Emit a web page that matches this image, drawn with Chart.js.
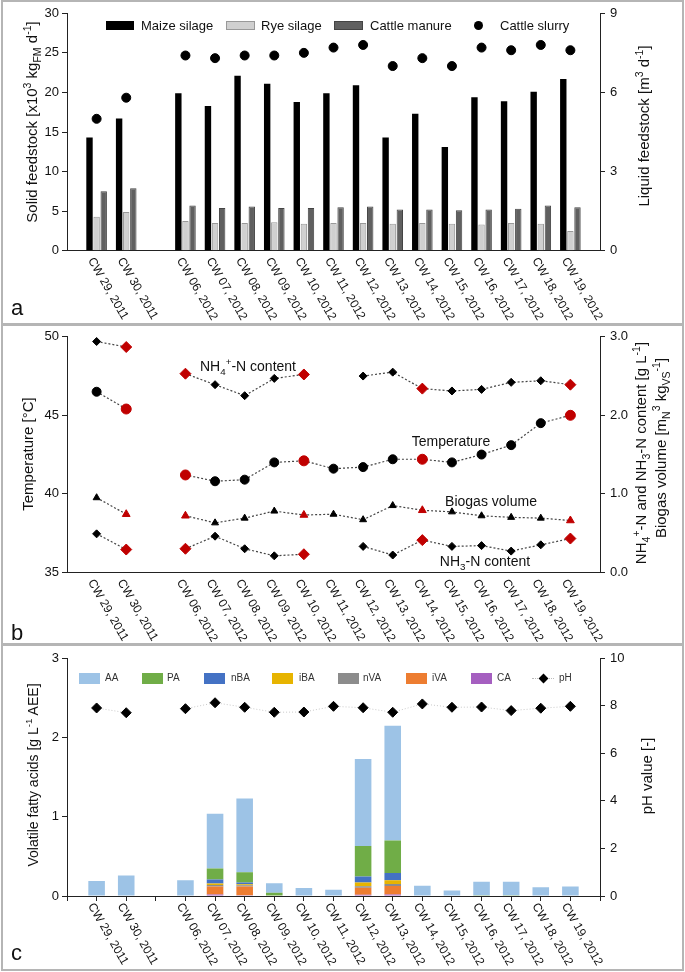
<!DOCTYPE html>
<html>
<head>
<meta charset="utf-8">
<script src="https://cdn.jsdelivr.net/npm/chart.js@4.4.1/dist/chart.umd.min.js"></script>
<style>
  body { margin: 0; width: 685px; height: 972px; position: relative; overflow: hidden; background: #fff;
         font-family: 'Liberation Sans', Arial, sans-serif; color: #111; }
  .panel { position: absolute; left: 1px; width: 683px; box-sizing: border-box; border: 2px solid #b5b5b5; }
  canvas { position: absolute; left: 0; }
  .t { position: absolute; white-space: nowrap; font-size: 15px; line-height: 1; }
  .rot { transform: translate(-50%, -50%) rotate(-90deg); }
  .mid { transform: translate(-50%, -50%); }
  .lt { transform: translateY(-50%); }
  sup, sub { font-size: 0.7em; line-height: 0; }
  .sw { position: absolute; box-sizing: border-box; }
  .small { font-size: 10px; color: #333; }
  .letter { position: absolute; left: 11px; font-size: 22px; line-height: 1; }
</style>
</head>
<body>
<div class="panel" style="top:0; height:325px"></div>
<div class="panel" style="top:324px; height:321px"></div>
<div class="panel" style="top:644px; height:327px"></div>

<canvas id="feedstock" width="685" height="324" style="top:0"></canvas>
<canvas id="process" width="685" height="320" style="top:324px"></canvas>
<canvas id="acids" width="685" height="326" style="top:644px"></canvas>

<!-- panel a: titles and legend -->
<div class="t rot" style="left:31px; top:122px">Solid feedstock [x10<sup>3</sup> kg<sub>FM</sub> d<sup>-1</sup>]</div>
<div class="t rot" style="left:643px; top:126px">Liquid feedstock [m<sup>3</sup> d<sup>-1</sup>]</div>
<span class="sw" style="left:106px; top:20.5px; width:28px; height:9px; background:#000"></span>
<span class="t lt" style="left:141px; top:25px; font-size:13px">Maize silage</span>
<span class="sw" style="left:226px; top:20.5px; width:29px; height:9px; background:#d0d0d0; border:1px solid #999"></span>
<span class="t lt" style="left:261px; top:25px; font-size:13px">Rye silage</span>
<span class="sw" style="left:334px; top:20.5px; width:29px; height:9px; background:#606060; border:1px solid #444"></span>
<span class="t lt" style="left:370px; top:25px; font-size:13px">Cattle manure</span>
<span class="sw" style="left:473.5px; top:20.5px; width:9px; height:9px; background:#000; border-radius:50%"></span>
<span class="t lt" style="left:500px; top:25px; font-size:13px">Cattle slurry</span>
<div class="letter" style="top:297px">a</div>

<!-- panel b: titles and series labels -->
<div class="t rot" style="left:27px; top:454px">Temperature [°C]</div>
<div class="t rot" style="left:640px; top:453px">NH<sub>4</sub><sup>+</sup>-N and NH<sub>3</sub>-N content [g L<sup>-1</sup>]</div>
<div class="t rot" style="left:660px; top:448px">Biogas volume [m<sub>N</sub><sup>3</sup> kg<sub>VS</sub><sup>-1</sup>]</div>
<div class="t mid" style="left:248px; top:366px; font-size:14px">NH<sub>4</sub><sup>+</sup>-N content</div>
<div class="t mid" style="left:451px; top:441px; font-size:14px">Temperature</div>
<div class="t mid" style="left:491px; top:501px; font-size:14px">Biogas volume</div>
<div class="t mid" style="left:485px; top:561px; font-size:14px">NH<sub>3</sub>-N content</div>
<div class="letter" style="top:622px">b</div>

<!-- panel c: titles and legend -->
<div class="t rot" style="left:33px; top:775px; font-size:14px">Volatile fatty acids [g L<sup>-1</sup> AEE]</div>
<div class="t rot" style="left:646px; top:776px">pH value [-]</div>
<span class="sw" style="left:79px; top:673px; width:21px; height:11px; background:#9dc3e6"></span>
<span class="t lt small" style="left:105px; top:678px">AA</span>
<span class="sw" style="left:142px; top:673px; width:21px; height:11px; background:#70ad47"></span>
<span class="t lt small" style="left:167px; top:678px">PA</span>
<span class="sw" style="left:204px; top:673px; width:21px; height:11px; background:#4472c4"></span>
<span class="t lt small" style="left:231px; top:678px">nBA</span>
<span class="sw" style="left:272px; top:673px; width:21px; height:11px; background:#e7b400"></span>
<span class="t lt small" style="left:299px; top:678px">iBA</span>
<span class="sw" style="left:338px; top:673px; width:21px; height:11px; background:#8c8c8c"></span>
<span class="t lt small" style="left:363px; top:678px">nVA</span>
<span class="sw" style="left:406px; top:673px; width:21px; height:11px; background:#ed7d31"></span>
<span class="t lt small" style="left:432px; top:678px">iVA</span>
<span class="sw" style="left:471px; top:673px; width:21px; height:11px; background:#a55fc0"></span>
<span class="t lt small" style="left:497px; top:678px">CA</span>
<span class="sw" style="left:532px; top:677.5px; width:22px; height:0; border-top:1px dotted #bbb"></span>
<span class="sw" style="left:539.5px; top:674.5px; width:7px; height:7px; background:#000; transform:rotate(45deg)"></span>
<span class="t lt small" style="left:559px; top:678px">pH</span>
<div class="letter" style="top:942px">c</div>

<script>
// sampling weeks; the blank entry is the gap between the 2011 and 2012 campaigns
const weeks = ['CW 29, 2011', 'CW 30, 2011', '', 'CW 06, 2012', 'CW 07, 2012', 'CW 08, 2012',
    'CW 09, 2012', 'CW 10, 2012', 'CW 11, 2012', 'CW 12, 2012', 'CW 13, 2012', 'CW 14, 2012',
    'CW 15, 2012', 'CW 16, 2012', 'CW 17, 2012', 'CW 18, 2012', 'CW 19, 2012'];
// weeks drawn in red in panel b
const redWeeks = ['CW 30, 2011', 'CW 06, 2012', 'CW 10, 2012', 'CW 14, 2012', 'CW 19, 2012'];

// a) feedstock
const maizeSilage = [14.3, 16.7, null, 19.9, 18.3, 22.1, 21.1, 18.8, 19.9, 20.9, 14.3, 17.3, 13.1, 19.4, 18.9, 20.1, 21.7];
const ryeSilage = [4.3, 4.9, null, 3.75, 3.5, 3.5, 3.6, 3.4, 3.5, 3.5, 3.4, 3.5, 3.4, 3.3, 3.5, 3.4, 2.5];
const cattleManure = [7.5, 7.9, null, 5.7, 5.4, 5.6, 5.4, 5.4, 5.5, 5.6, 5.2, 5.2, 5.1, 5.2, 5.3, 5.7, 5.5];
const cattleSlurry = [5.0, 5.8, null, 7.4, 7.3, 7.4, 7.4, 7.5, 7.7, 7.8, 7.0, 7.3, 7.0, 7.7, 7.6, 7.8, 7.6];

// b) process parameters
const nh4Content = [2.94, 2.87, null, 2.53, 2.39, 2.25, 2.47, 2.52, null, 2.50, 2.55, 2.34, 2.31, 2.33, 2.42, 2.44, 2.39];
const temperature = [46.5, 45.4, null, 41.2, 40.8, 40.9, 42.0, 42.1, 41.6, 41.7, 42.2, 42.2, 42.0, 42.5, 43.1, 44.5, 45.0];
const biogasVolume = [0.95, 0.74, null, 0.72, 0.63, 0.69, 0.78, 0.73, 0.74, 0.67, 0.85, 0.79, 0.77, 0.72, 0.70, 0.69, 0.66];
const nh3Content = [0.49, 0.29, null, 0.30, 0.46, 0.30, 0.21, 0.23, null, 0.33, 0.22, 0.41, 0.33, 0.34, 0.27, 0.35, 0.43];

// c) volatile fatty acids (g/L AEE) and pH
const aa = [0.19, 0.26, null, 0.20, 0.69, 0.93, 0.12, 0.10, 0.08, 1.10, 1.45, 0.13, 0.07, 0.17, 0.17, 0.11, 0.12];
const pa = [null, null, null, null, 0.14, 0.13, 0.04, null, null, 0.385, 0.41, null, null, 0.01, 0.01, null, null];
const nba = [null, null, null, null, 0.05, 0.02, null, null, null, 0.076, 0.09, null, null, null, null, null, null];
const iba = [null, null, null, null, 0.02, 0.013, null, null, null, 0.046, 0.05, null, null, null, null, null, null];
const nva = [null, null, null, null, 0.018, 0.016, null, null, null, 0.02, 0.025, null, null, null, null, null, null];
const iva = [null, null, null, null, 0.10, 0.11, null, null, null, 0.088, 0.105, null, null, null, null, null, null];
const ca = [null, null, null, null, 0.02, 0.01, null, null, null, 0.015, 0.02, null, null, null, null, null, null];
const phValue = [7.91, 7.71, null, 7.88, 8.13, 7.94, 7.73, 7.74, 7.98, 7.92, 7.73, 8.08, 7.94, 7.95, 7.80, 7.90, 7.98];

// one empty slot on each side so the first/last week sit a slot away from the axes
const slots = ['', ...weeks, ''];
const pad = values => [null, ...values, null];

const FONT = "'Liberation Sans', Arial, sans-serif";
const RED = '#c00000';
Chart.defaults.font.family = FONT;
Chart.defaults.font.size = 13;
Chart.defaults.color = '#111';
Chart.defaults.animation = false;
Chart.defaults.plugins.legend.display = false;
Chart.defaults.plugins.tooltip.enabled = false;

// Chart.js always right-aligns rotated x labels, these hang from the tick instead
const slantedLabels = {
    id: 'slantedLabels',
    afterDraw(chart) {
        const scale = chart.scales.x;
        const ctx = chart.ctx;
        ctx.save();
        ctx.font = `12px ${FONT}`;
        ctx.fillStyle = '#111';
        ctx.textAlign = 'left';
        ctx.textBaseline = 'middle';
        scale.getLabels().forEach((label, i) => {
            if (!label) return;
            ctx.save();
            ctx.translate(scale.getPixelForValue(i) - 6, scale.top + 8);
            ctx.rotate(60 * Math.PI / 180);
            ctx.fillText(label, 0, 0);
            ctx.restore();
        });
        ctx.restore();
    },
};

function yAxis(position, min, max, stepSize, format) {
    return {
        position, min, max,
        border: { color: '#222' },
        grid: { drawOnChartArea: false, tickLength: 5, color: '#222' },
        ticks: { stepSize, padding: position === 'left' ? 3 : 5, callback: format || (v => v) },
        afterFit: s => { s.width = position === 'left' ? 67 : 85; },
    };
}

function xAxis(height, drawTicks, stacked) {
    return {
        offset: false,
        stacked,
        border: { color: '#222' },
        grid: { drawOnChartArea: false, offset: false, drawTicks, tickLength: 5, color: '#222' },
        ticks: { display: false },
        afterFit: s => { s.height = height; },
    };
}

const isRed = ctx => redWeeks.includes(slots[ctx.dataIndex]);

function processLine(label, values, axis, style, size, redSize) {
    return {
        type: 'line', label, data: pad(values), yAxisID: axis,
        borderColor: '#444', borderWidth: 1.2, borderDash: [2, 2],
        pointStyle: style,
        pointRadius: ctx => isRed(ctx) ? redSize : size,
        pointBackgroundColor: ctx => isRed(ctx) ? RED : '#000',
        pointBorderColor: ctx => isRed(ctx) ? RED : '#000',
        pointBorderWidth: 1,
        spanGaps: false,
    };
}

new Chart(document.getElementById('feedstock'), {
    type: 'bar',
    data: {
        labels: slots,
        datasets: [
            { label: 'Maize silage', data: pad(maizeSilage), backgroundColor: '#000' },
            { label: 'Rye silage', data: pad(ryeSilage), backgroundColor: '#d0d0d0', borderColor: '#999', borderWidth: 1 },
            { label: 'Cattle manure', data: pad(cattleManure), backgroundColor: '#606060', borderColor: '#444', borderWidth: 1 },
            {
                type: 'line', label: 'Cattle slurry', data: pad(cattleSlurry), yAxisID: 'y1',
                showLine: false, pointStyle: 'circle', pointRadius: 4.5,
                pointBackgroundColor: '#000', pointBorderColor: '#000',
            },
        ],
    },
    options: {
        responsive: false,
        categoryPercentage: 0.72,
        barPercentage: 0.9,
        layout: { padding: { top: 13.3, left: 0, right: 0, bottom: 0 } },
        scales: {
            x: xAxis(73.3, false, false),
            y: yAxis('left', 0, 30, 5),
            y1: yAxis('right', 0, 9, 3),
        },
    },
    plugins: [slantedLabels],
});

new Chart(document.getElementById('process'), {
    type: 'line',
    data: {
        labels: slots,
        datasets: [
            processLine('NH4+-N content', nh4Content, 'y1', 'rectRot', 4, 5.5),
            processLine('Temperature', temperature, 'y', 'circle', 4.5, 5),
            processLine('Biogas volume', biogasVolume, 'y1', 'triangle', 4, 4.5),
            processLine('NH3-N content', nh3Content, 'y1', 'rectRot', 4, 5.5),
        ],
    },
    options: {
        responsive: false,
        layout: { padding: { top: 12, left: 0, right: 0, bottom: 0 } },
        scales: {
            x: xAxis(71.7, false, false),
            y: yAxis('left', 35, 50, 5),
            y1: yAxis('right', 0, 3, 1, v => v.toFixed(1)),
        },
    },
    plugins: [slantedLabels],
});

// stacked bottom to top: CA, iVA, nVA, iBA, nBA, PA, AA
const acidSeries = [
    ['CA', ca, '#a55fc0'],
    ['iVA', iva, '#ed7d31'],
    ['nVA', nva, '#8c8c8c'],
    ['iBA', iba, '#e7b400'],
    ['nBA', nba, '#4472c4'],
    ['PA', pa, '#70ad47'],
    ['AA', aa, '#9dc3e6'],
];

new Chart(document.getElementById('acids'), {
    type: 'bar',
    data: {
        labels: slots,
        datasets: [
            ...acidSeries.map(([label, values, color]) => ({
                label, data: pad(values), backgroundColor: color, stack: 'vfa',
            })),
            {
                type: 'line', label: 'pH', data: pad(phValue), yAxisID: 'y1',
                borderColor: '#c8c8c8', borderWidth: 1, borderDash: [1, 2],
                pointStyle: 'rectRot', pointRadius: 5,
                pointBackgroundColor: '#000', pointBorderColor: '#000',
                spanGaps: false,
            },
        ],
    },
    options: {
        responsive: false,
        categoryPercentage: 1,
        barPercentage: 0.56,
        layout: { padding: { top: 14.3, left: 0, right: 0, bottom: 0 } },
        scales: {
            x: xAxis(74, true, true),
            y: { ...yAxis('left', 0, 3, 1), stacked: true },
            y1: yAxis('right', 0, 10, 2),
        },
    },
    plugins: [slantedLabels],
});
</script>
</body>
</html>
